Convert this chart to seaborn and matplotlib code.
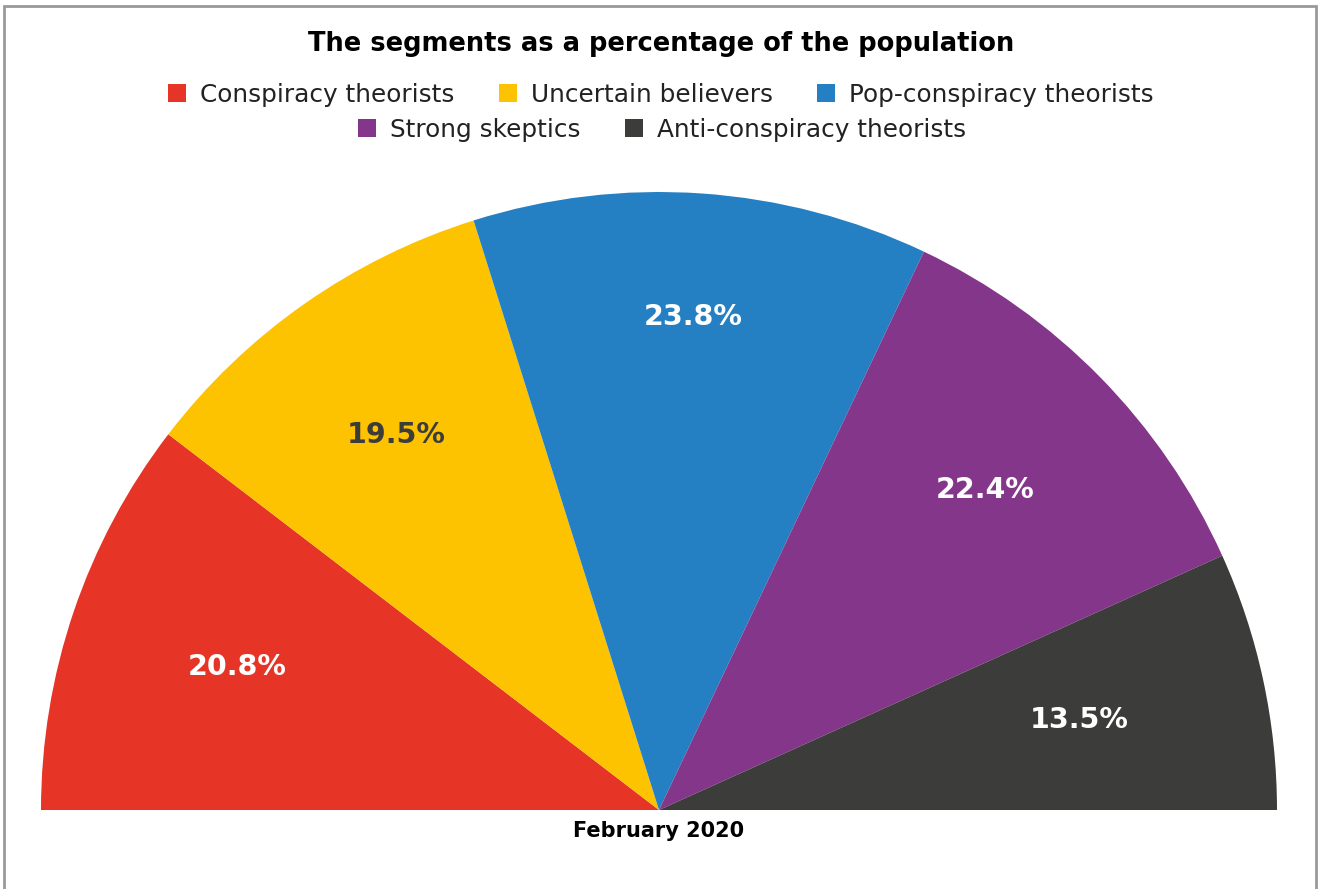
import numpy as np
import matplotlib.pyplot as plt
import matplotlib.patches as mpatches
from matplotlib.lines import Line2D
import seaborn as sns

# data
segments = ["Conspiracy theorists", "Uncertain believers", "Pop-conspiracy theorists",
            "Strong skeptics", "Anti-conspiracy theorists"]
shares = [20.8, 19.5, 23.8, 22.4, 13.5]
colors = ["#E63426", "#FDC300", "#2580C3", "#84368B", "#3C3C3A"]
label_colors = ["white", "#3C3C3A", "white", "white", "white"]
# how far out each value label sits (fraction of radius)
label_radius = [0.72, 0.74, 0.80, 0.74, 0.695]

sns.set_theme(style="white")
plt.rcParams['font.family'] = ['DejaVu Sans']

fig = plt.figure(figsize=(13.18, 8.89), dpi=100)
W, H = 1318, 889

# axes placed so the half pie fills centre (659, 810), radius 618 px
ax = fig.add_axes([41 / W, (H - 810) / H, 1236 / W, 618 / H])

# -----------------------------
# Half pie: hidden wedge equal to the total fills the lower half
# -----------------------------
total = sum(shares)
wedges, _ = ax.pie(shares + [total], colors=colors + ["none"], startangle=180,
                   counterclock=False, radius=1.0,
                   wedgeprops=dict(linewidth=0))
wedges[-1].set_visible(False)

ax.set_xlim(-1, 1)
ax.set_ylim(0, 1)
ax.set_aspect("auto")
ax.axis("off")

start = 180.0
for val, c, r in zip(shares, label_colors, label_radius):
    span = val / total * 180.0
    mid = np.deg2rad(start - span / 2)
    ax.text(r * np.cos(mid), r * np.sin(mid), f"{val:.1f}%",
            ha="center", va="center", color=c, fontsize=20.5, fontweight="heavy")
    start -= span

# -----------------------------
# Title, legend, x label
# -----------------------------
fig.text(661 / W, 1 - 44 / H, "The segments as a percentage of the population",
         ha="center", va="center", fontsize=18.5, fontweight="heavy", color="black")

def make_handles(idx):
    return [Line2D([], [], marker="s", linestyle="", markersize=13,
                   markerfacecolor=colors[i], markeredgewidth=0) for i in idx]

row1 = [0, 1, 2]
row2 = [3, 4]
leg_kw = dict(loc="center", frameon=False, fontsize=17.8, handletextpad=0.5,
              columnspacing=1.75, handlelength=0.85)
leg1 = fig.legend(make_handles(row1), [segments[i] for i in row1],
                  bbox_to_anchor=(660 / W, 1 - 95 / H), ncol=3, **leg_kw)
leg2 = fig.legend(make_handles(row2), [segments[i] for i in row2],
                  bbox_to_anchor=(661 / W, 1 - 130 / H), ncol=2, **leg_kw)
for leg in (leg1, leg2):
    for t in leg.get_texts():
        t.set_color("#222222")

fig.text(659 / W, 1 - 831 / H, "February 2020", ha="center", va="center",
         fontsize=15, fontweight="bold", color="black")

# grey frame, open at the bottom
fig.add_artist(mpatches.Rectangle((4 / W, -0.05), 1312 / W, 1.05 - 6 / H,
                                  transform=fig.transFigure, fill=False,
                                  edgecolor="#999999", linewidth=2))

fig.savefig("out.png", dpi=100)
